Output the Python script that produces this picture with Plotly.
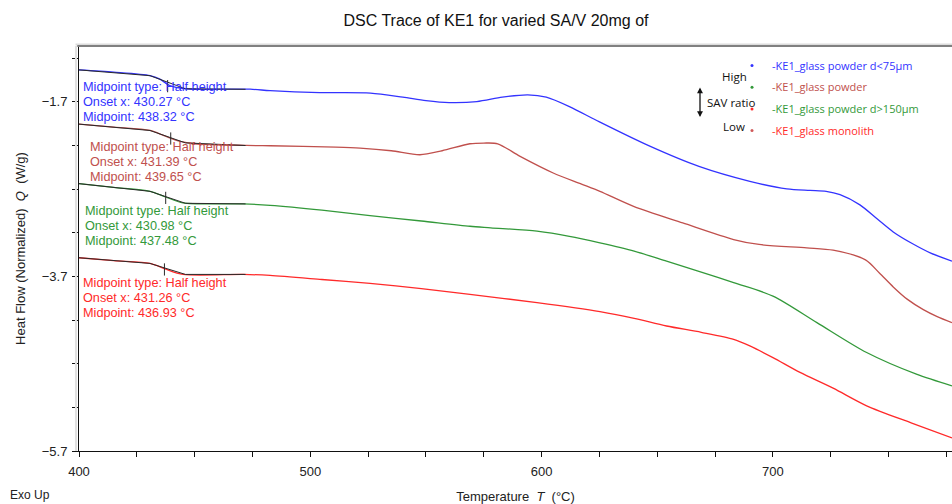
import plotly.graph_objects as go

# ---------------- data ----------------
T_BLUE = [400, 415, 430.7, 435, 439, 446, 474, 482.6, 504, 526, 540, 550, 560, 572, 583, 594, 602,
          612, 625, 647, 668, 690, 706, 716, 723, 729, 737.6, 745, 752, 760, 768, 777.4]
Q_BLUE = [-1.334, -1.36, -1.40, -1.44, -1.51, -1.55, -1.555, -1.571, -1.594, -1.60, -1.646, -1.685,
          -1.708, -1.697, -1.646, -1.62, -1.646, -1.754, -1.93, -2.211, -2.44, -2.611, -2.698, -2.715,
          -2.725, -2.763, -2.88, -3.04, -3.19, -3.32, -3.43, -3.525]

T_BROWN = [400, 415, 430.7, 437, 443.7, 450, 472.5, 482.6, 511, 521.5, 535, 547.4, 557, 569, 575, 581,
           590.7, 605, 617, 625.2, 640, 661, 683, 694, 714.6, 726, 740, 746, 752, 758, 765, 771, 777.4]
Q_BROWN = [-1.955, -1.99, -2.028, -2.09, -2.153, -2.18, -2.199, -2.203, -2.218, -2.229, -2.26, -2.306,
           -2.26, -2.18, -2.172, -2.18, -2.325, -2.515, -2.64, -2.725, -2.90, -3.087, -3.277, -3.334,
           -3.372, -3.399, -3.51, -3.66, -3.82, -3.96, -4.08, -4.16, -4.229]

T_GREEN = [400, 415, 430.7, 437.5, 445, 471, 482.6, 505, 525.8, 548, 569, 578, 598, 612, 625.2, 640,
           654, 669, 683, 700, 719, 740.5, 762, 777.4]
Q_GREEN = [-2.637, -2.68, -2.725, -2.79, -2.858, -2.869, -2.885, -2.94, -3.003, -3.065, -3.125, -3.143,
           -3.182, -3.24, -3.315, -3.41, -3.525, -3.65, -3.772, -3.925, -4.229, -4.572, -4.82, -4.954]

T_RED = [400, 415, 430.7, 436.9, 445, 471, 482.6, 505, 525.8, 548, 569, 598, 625.2, 640, 654, 669,
         683, 690, 700, 711.7, 726, 740.5, 760, 777.4]
Q_RED = [-3.486, -3.52, -3.551, -3.61, -3.677, -3.677, -3.689, -3.735, -3.78, -3.84, -3.906, -4.0,
         -4.103, -4.18, -4.268, -4.34, -4.42, -4.496, -4.63, -4.80, -4.98, -5.182, -5.38, -5.55]

# glass-transition analysis: tangent/baseline constructions and midpoints
TAN_T = [400, 430.7, 446, 472]
TAN_Q_BLUE = [-1.334, -1.40, -1.55, -1.556]
TAN_Q_BROWN = [-1.955, -2.028, -2.17, -2.20]
TAN_Q_GREEN = [-2.637, -2.725, -2.862, -2.869]
TAN_Q_RED = [-3.486, -3.551, -3.677, -3.677]

ONSET = [430.27, 431.39, 430.98, 431.26]
MIDPOINT = [438.32, 439.65, 437.48, 436.93]
MID_Q = [-1.52, -2.12, -2.80, -3.62]

LEGEND_NAMES = ["-KE1_glass powder d&lt;75µm", "-KE1_glass powder",
                "-KE1_glass powder d&gt;150µm", "-KE1_glass monolith"]
COLORS = ["#3333ff", "#c0504d", "#33993a", "#ff2a2a"]
LEGEND_DOT_COLORS = ["#3333ff", "#33993a", "#ff2a2a", "#d05a5a"]

# text block anchors (data coordinates of the middle line)
LABEL_X = [400.9, 403.9, 401.8, 400.9]
LABEL_Y = [-1.70, -2.391, -3.123, -3.946]

X_RANGE = [400, 777.4]
Y_RANGE = [-5.7, -1.06]

# ---------------- figure ----------------
fig = go.Figure()

series = [(T_BLUE, Q_BLUE), (T_BROWN, Q_BROWN), (T_GREEN, Q_GREEN), (T_RED, Q_RED)]
tangents = [TAN_Q_BLUE, TAN_Q_BROWN, TAN_Q_GREEN, TAN_Q_RED]

for (t, q), c in zip(series, COLORS):
    fig.add_trace(go.Scatter(x=t, y=q, mode="lines",
                             line=dict(color=c, width=1.3, shape="spline", smoothing=0.8),
                             showlegend=False, hoverinfo="skip"))

for tq in tangents:
    fig.add_trace(go.Scatter(x=TAN_T, y=tq, mode="lines", line=dict(color="#2a2a2a", width=1),
                             showlegend=False, hoverinfo="skip"))

for m, mq in zip(MIDPOINT, MID_Q):
    fig.add_trace(go.Scatter(x=[m, m], y=[mq + 0.07, mq - 0.07], mode="lines",
                             line=dict(color="#2a2a2a", width=1), showlegend=False, hoverinfo="skip"))

for i, (name, c, dc) in enumerate(zip(LEGEND_NAMES, COLORS, LEGEND_DOT_COLORS)):
    fig.add_trace(go.Scatter(x=[None], y=[None], mode="markers",
                             marker=dict(color=dc, size=3),
                             name='<span style="color:%s">%s</span>' % (c, name),
                             legendgroup="g%d" % i))

# analysis labels
for i, c in enumerate(COLORS):
    lines = ["Midpoint type: Half height",
             "Onset x: %.2f °C" % ONSET[i],
             "Midpoint: %.2f °C" % MIDPOINT[i]]
    for j, txt in enumerate(lines):
        fig.add_annotation(x=LABEL_X[i], y=LABEL_Y[i], xref="x", yref="y", text=txt,
                           showarrow=False, xanchor="left", yanchor="middle",
                           yshift=(1 - j) * 15.2,
                           font=dict(family="Liberation Sans, Arial", size=12.7, color=c))

# SAV ratio indicator
side_font = dict(family="Open Sans, Noto Sans", size=11.5, color="#111111")
for txt, px, py in [("High", 734, 76), ("SAV ratio", 731, 102), ("Low", 734, 127)]:
    fig.add_annotation(x=(px - 79) / 873, y=(451 - py) / 405, xref="paper", yref="paper",
                       text=txt, showarrow=False, xanchor="center", yanchor="middle",
                       font=side_font)
fig.add_annotation(x=(700 - 79) / 873, y=(451 - 117) / 405, xref="paper", yref="paper",
                   ax=0, ay=-31, text="", showarrow=True, arrowside="end+start",
                   arrowhead=2, arrowsize=0.9, arrowwidth=1.3, arrowcolor="#111111")

# Exo Up
fig.add_annotation(x=(8 - 79) / 873, y=-(495 - 451) / 405, xref="paper", yref="paper",
                   text="Exo Up", showarrow=False, xanchor="left", yanchor="middle",
                   font=dict(family="Liberation Sans, Arial", size=12, color="#222222"))

# frame decoration: grey top border and light shadow along the left axis
fig.add_shape(type="line", xref="paper", yref="paper", x0=-0.004, x1=1, y0=1.004, y1=1.004,
              line=dict(color="#dcdcdc", width=2))
fig.add_shape(type="line", xref="paper", yref="paper", x0=-0.002, x1=1, y0=1, y1=1,
              line=dict(color="#808080", width=2.2))
fig.add_shape(type="line", xref="paper", yref="paper", x0=-0.0035, x1=-0.0035, y0=0, y1=1,
              line=dict(color="#e0e0e0", width=2))

fig.update_layout(
    width=952, height=504,
    margin=dict(l=79, r=0, t=46, b=53),
    paper_bgcolor="white", plot_bgcolor="white",
    title=dict(text="DSC Trace of KE1 for varied SA/V 20mg of", x=496 / 952, xref="container",
               xanchor="center", y=1 - 20 / 504, yref="container", yanchor="middle",
               font=dict(family="Liberation Sans, Arial", size=16, color="#111111")),
    legend=dict(x=(732 - 79) / 873, y=(451 - 51) / 405, xanchor="left", yanchor="top",
                bgcolor="rgba(0,0,0,0)", borderwidth=0, tracegroupgap=2.7,
                font=dict(family="Open Sans, Noto Sans", size=11), itemsizing="trace"),
    xaxis=dict(range=X_RANGE, tick0=400, dtick=100, ticks="outside", ticklen=5, tickcolor="#111",
               showline=True, linecolor="#111", linewidth=1, showgrid=False, zeroline=False,
               ticklabelstandoff=3,
               tickfont=dict(family="Liberation Sans, Arial", size=13, color="#222"),
               minor=dict(dtick=25, tick0=400, ticks="outside", ticklen=5, tickcolor="#111",
                          showgrid=False),
               title=dict(text="Temperature\u00a0\u00a0<i>T</i>\u00a0\u00a0(°C)", standoff=16,
                          font=dict(family="Liberation Sans, Arial", size=13, color="#222"))),
    yaxis=dict(range=Y_RANGE, tick0=-1.7, dtick=2, ticks="outside", ticklen=6, tickcolor="#111",
               showline=True, linecolor="#111", linewidth=1, showgrid=False, zeroline=False,
               ticklabelstandoff=2,
               tickfont=dict(family="Liberation Sans, Arial", size=13, color="#222"),
               minor=dict(dtick=0.5, tick0=-1.7, ticks="outside", ticklen=6, tickcolor="#111",
                          showgrid=False),
               title=dict(text="Heat Flow (Normalized)\u00a0\u00a0<i>Q</i>\u00a0\u00a0(W/g)", standoff=13,
                          font=dict(family="Liberation Sans, Arial", size=13, color="#222"))),
)

fig.write_html("out.html")
